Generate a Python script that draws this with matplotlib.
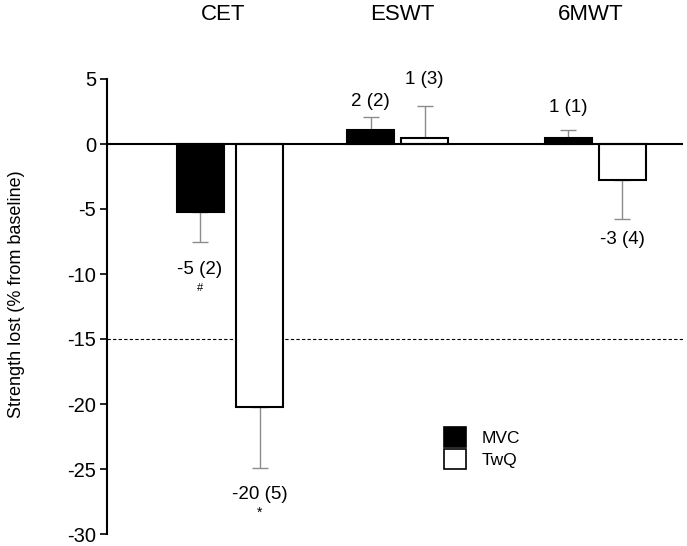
import matplotlib
matplotlib.use("Agg")
import matplotlib.pyplot as plt
from matplotlib.patches import Patch

plt.rcParams['font.family'] = ['Liberation Sans', 'DejaVu Sans']

groups = ["CET", "ESWT", "6MWT"]
series = ["MVC", "TwQ"]
mvc = [-5.2, 1.1, 0.5]
mvc_err = [2.3, 1.0, 0.6]
twq = [-20.2, 0.5, -2.8]
twq_err = [4.7, 2.4, 3.0]
mvc_labels = ["-5 (2)", "2 (2)", "1 (1)"]
twq_labels = ["-20 (5)", "1 (3)", "-3 (4)"]
mvc_marks = ["#", "", ""]
twq_marks = ["*", "", ""]
threshold = -15
yticks = [5, 0, -5, -10, -15, -20, -25, -30]

# layout (pixel-like x units, label y positions in data units)
mvc_x = [200, 370.8, 568.2]
twq_x = [259.7, 424.7, 622]
group_x = [223, 402, 591]
width = 47
mvc_label_y = [-9.67, 3.25, 2.79]
twq_label_y = [-26.98, 4.95, -7.36]
mark_dy = 1.4

W, H = 687, 546
fig = plt.figure(figsize=(W/100, H/100), dpi=100)
ax = fig.add_axes([107/W, 12/H, (683-107)/W, (534-79)/H])
ax.set_xlim(107, 683)
ax.set_ylim(-30, 5)

ek = dict(ecolor="#8c8c8c", elinewidth=1.0, capthick=1.0)
for xs, vals, errs, fc in ((mvc_x, mvc, mvc_err, "black"), (twq_x, twq, twq_err, "white")):
    for x, v, e in zip(xs, vals, errs):
        ax.bar(x, v, width=width, color=fc, edgecolor="black", linewidth=1.5, zorder=2)
        ax.errorbar(x, v, yerr=[[e if v < 0 else 0], [e if v >= 0 else 0]], fmt="none",
                    capsize=5.5, zorder=1, **ek)

ax.axhline(0, color="black", lw=1.5, zorder=3)
ax.axhline(threshold, color="black", lw=0.8, ls=(0, (3, 2)), zorder=0)

for xs, labs, ly, marks, msize in ((mvc_x, mvc_labels, mvc_label_y, mvc_marks, 8),
                                   (twq_x, twq_labels, twq_label_y, twq_marks, 10)):
    for x, t, y, m in zip(xs, labs, ly, marks):
        ax.text(x, y, t, ha="center", va="center", fontsize=13.5)
        if m:
            ax.text(x, y - mark_dy, m, ha="center", va="center", fontsize=msize)

for gx, g in zip(group_x, groups):
    ax.text(gx, 9.95, g, ha="center", va="center", fontsize=16, clip_on=False)

for s in ["top", "right", "bottom"]:
    ax.spines[s].set_visible(False)
ax.spines["left"].set_linewidth(1.5)
ax.set_xticks([])
ax.set_yticks(yticks)
ax.set_yticklabels([str(t) for t in yticks])
ax.tick_params(axis="y", labelsize=14.5, length=5, width=1.2, pad=3)
ax.set_ylabel("Strength lost (% from baseline)", fontsize=13)
ax.yaxis.set_label_coords(-(107 - 25) / (683 - 107), (534 - 294) / (534 - 79))

handles = [Patch(facecolor="black", edgecolor="black", lw=1.2),
           Patch(facecolor="white", edgecolor="black", lw=1.2)]
fig.legend(handles, series, loc="upper left", bbox_to_anchor=(444/W, 1 - 427/H),
           frameon=False, fontsize=12.5, handlelength=1.25, handleheight=1.4,
           handletextpad=0.9, labelspacing=0.12, borderaxespad=0, borderpad=0)

fig.savefig("out.png", dpi=100)
